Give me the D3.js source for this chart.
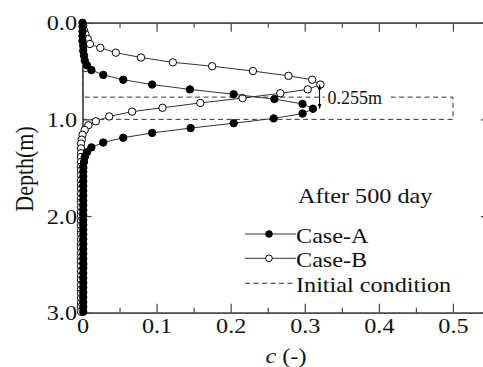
<!DOCTYPE html>
<html>
<head>
<meta charset="utf-8">
<script src="https://cdn.jsdelivr.net/npm/d3@7"></script>
<style>
    body { margin: 0; background: #fff; }
    svg { display: block; }
    .axis path, .axis line { stroke: #444; stroke-width: 1.2; }
    .axis text { font-family: "Liberation Serif", "Times New Roman", Times, serif; font-size: 22px; fill: #111; }
    .label { font-family: "Liberation Serif", "Times New Roman", Times, serif; font-size: 22px; fill: #111; }
</style>
</head>
<body>
<script>
(function(){

    //depths (m) and concentrations
    var depthA = [0.00, 0.04, 0.09, 0.14, 0.19, 0.24, 0.29, 0.34, 0.39, 0.44,
        0.49, 0.54, 0.59, 0.64, 0.69, 0.74, 0.79, 0.84, 0.89, 0.94,
        0.99, 1.04, 1.09, 1.14, 1.19, 1.24, 1.29, 1.34, 1.39, 1.44,
        1.49, 1.54, 1.59, 1.64, 1.69, 1.74, 1.79, 1.84, 1.89, 1.94,
        1.99, 2.04, 2.09, 2.14, 2.19, 2.24, 2.29, 2.34, 2.39, 2.44,
        2.49, 2.54, 2.59, 2.64, 2.69, 2.74, 2.79, 2.84, 2.89, 2.94, 2.99];
    var caseA = [0.000, 0.000, 0.000, 0.000, 0.000, 0.001, 0.001, 0.002, 0.003, 0.006,
        0.012, 0.028, 0.055, 0.094, 0.145, 0.204, 0.259, 0.297, 0.311, 0.297,
        0.258, 0.204, 0.146, 0.094, 0.055, 0.028, 0.012, 0.006, 0.003, 0.002,
        0.001, 0.001, 0.001, 0.001, 0.001, 0.001, 0.001, 0.001, 0.001, 0.001,
        0.001, 0.001, 0.001, 0.001, 0.001, 0.001, 0.001, 0.001, 0.001, 0.001,
        0.001, 0.001, 0.001, 0.001, 0.001, 0.001, 0.001, 0.001, 0.001, 0.001, 0.001];

    var depthB = [0.03, 0.08, 0.12, 0.17, 0.22, 0.26, 0.31, 0.36, 0.41, 0.45,
        0.50, 0.55, 0.59, 0.64, 0.69, 0.73, 0.78, 0.83, 0.88, 0.92,
        0.97, 1.02, 1.06, 1.11, 1.16, 1.21, 1.25, 1.30, 1.35, 1.39,
        1.44, 1.49, 1.53, 1.58, 1.63, 1.68, 1.72, 1.77, 1.82, 1.86,
        1.91, 1.96, 2.00, 2.05, 2.10, 2.15, 2.19, 2.24, 2.29, 2.33,
        2.38, 2.43, 2.47, 2.52, 2.57, 2.62, 2.66, 2.71, 2.76, 2.80,
        2.85, 2.90, 2.94, 2.99];
    var caseB = [0.001, 0.002, 0.004, 0.007, 0.010, 0.024, 0.045, 0.079, 0.122, 0.175,
        0.230, 0.278, 0.310, 0.321, 0.304, 0.267, 0.216, 0.159, 0.108, 0.067,
        0.036, 0.018, 0.008, 0.003, 0.000, -0.001, -0.002, -0.002, -0.002, -0.002,
        -0.002, -0.002, -0.002, -0.002, -0.002, -0.002, -0.002, -0.002, -0.002, -0.002,
        -0.002, -0.002, -0.002, -0.002, -0.002, -0.002, -0.002, -0.002, -0.002, -0.002,
        -0.002, -0.002, -0.002, -0.002, -0.002, -0.002, -0.002, -0.002, -0.002, -0.002,
        -0.002, -0.002, -0.002, -0.002];

    //initial condition (dashed outline)
    var initDepth = [0.00, 0.77, 0.77, 1.00, 1.00, 3.00];
    var initC = [0.0, 0.0, 0.5, 0.5, 0.0, 0.0];

    //axis ticks
    var xMajor = [0, 0.1, 0.2, 0.3, 0.4, 0.5];
    var xMinor = [0.05, 0.15, 0.25, 0.35, 0.45];
    var yMajor = [0, 1, 2, 3];
    var yMinor = [0.5, 1.5, 2.5];

    //legend entries and annotation
    var legendNames = ["Case-A", "Case-B", "Initial condition"];
    var shiftLabel = "0.255m";
    var shiftC = 0.32, shiftTop = 0.64, shiftBottom = 0.89;

    var stretch = 1.1;

    window.onload = setChart();

    function setChart(){
        var width = 483, height = 367;

        var svg = d3.select("body")
            .append("svg")
            .attr("width", width)
            .attr("height", height);

        //scales: c across, depth down
        var x = d3.scaleLinear().domain([0, 0.55]).range([82.5, 490]);
        var y = d3.scaleLinear().domain([0, 3]).range([22.7, 312.7]);

        var line = d3.line()
            .x(function(d){ return x(d[0]); })
            .y(function(d){ return y(d[1]); });

        //initial condition
        var initPts = initC.map(function(c, i){ return [c, initDepth[i]]; });
        svg.append("path")
            .attr("d", line(initPts))
            .attr("fill", "none")
            .attr("stroke", "#333")
            .attr("stroke-width", 1)
            .attr("stroke-dasharray", "5,3.5");

        //axes
        setAxes(svg, x, y);

        //series B then A
        var ptsB = caseB.map(function(c, i){ return [c, depthB[i]]; });
        var ptsA = caseA.map(function(c, i){ return [c, depthA[i]]; });
        drawSeries(svg, ptsB, "#fff", line, x, y);
        drawSeries(svg, ptsA, "#000", line, x, y);

        //shift annotation
        setAnnotation(svg, x, y);

        //legend
        setLegend(svg);

        //axis titles
        svg.append("text")
            .attr("class", "label")
            .attr("text-anchor", "middle")
            .attr("transform", "translate(33,169) scale(" + stretch + ",1) rotate(-90)")
            .text("Depth(m)");

        var xt = svg.append("text")
            .attr("class", "label")
            .attr("text-anchor", "middle")
            .attr("transform", "translate(286,363) scale(" + stretch + ",1)");
        xt.append("tspan").attr("font-style", "italic").text("c");
        xt.append("tspan").text(" (-)");
    };

    function setAxes(svg, x, y){
        var bottom = svg.append("g")
            .attr("class", "axis")
            .attr("transform", "translate(0," + y(3) + ")")
            .call(d3.axisBottom(x).tickValues(xMajor).tickSize(-9).tickSizeOuter(0)
                .tickPadding(5).tickFormat(function(d){ return d === 0 ? "0" : d3.format(".1f")(d); }));
        bottom.selectAll("text").attr("transform", "scale(" + stretch + ",1)");

        svg.append("g")
            .attr("class", "axis")
            .attr("transform", "translate(0," + y(3) + ")")
            .call(d3.axisBottom(x).tickValues(xMinor).tickSize(-5).tickSizeOuter(0).tickFormat(""));

        svg.append("g")
            .attr("class", "axis")
            .attr("transform", "translate(0," + y(0) + ")")
            .call(d3.axisTop(x).tickValues(xMajor).tickSize(-9).tickSizeOuter(0).tickFormat(""));

        svg.append("g")
            .attr("class", "axis")
            .attr("transform", "translate(0," + y(0) + ")")
            .call(d3.axisTop(x).tickValues(xMinor).tickSize(-5).tickSizeOuter(0).tickFormat(""));

        var left = svg.append("g")
            .attr("class", "axis")
            .attr("transform", "translate(" + x(0) + ",0)")
            .call(d3.axisLeft(y).tickValues(yMajor).tickSize(-9).tickSizeOuter(0)
                .tickPadding(5).tickFormat(d3.format(".1f")));
        left.selectAll("text").attr("transform", "scale(" + stretch + ",1)");

        svg.append("g")
            .attr("class", "axis")
            .attr("transform", "translate(" + x(0) + ",0)")
            .call(d3.axisLeft(y).tickValues(yMinor).tickSize(-5).tickSizeOuter(0).tickFormat(""));

        svg.append("g")
            .attr("class", "axis")
            .attr("transform", "translate(" + x(0.55) + ",0)")
            .call(d3.axisRight(y).tickValues(yMajor).tickSize(-9).tickSizeOuter(0).tickFormat(""));
    };

    function drawSeries(svg, pts, fill, line, x, y){
        svg.append("path")
            .attr("d", line(pts))
            .attr("fill", "none")
            .attr("stroke", "#333")
            .attr("stroke-width", 1);

        svg.append("g")
            .selectAll("circle")
            .data(pts)
            .enter()
            .append("circle")
            .attr("cx", function(d){ return x(d[0]); })
            .attr("cy", function(d){ return y(d[1]); })
            .attr("r", 3.7)
            .attr("fill", fill)
            .attr("stroke", "#000")
            .attr("stroke-width", 1);
    };

    function setAnnotation(svg, x, y){
        var ax = x(shiftC);

        //white box behind the label cuts the dashed line
        svg.append("rect")
            .attr("x", ax + 5)
            .attr("y", 89)
            .attr("width", 64)
            .attr("height", 18)
            .attr("fill", "#fff");

        svg.append("defs").append("marker")
            .attr("id", "head")
            .attr("viewBox", "0 0 10 10")
            .attr("refX", 10)
            .attr("refY", 5)
            .attr("markerWidth", 5)
            .attr("markerHeight", 5)
            .attr("orient", "auto-start-reverse")
            .append("path")
            .attr("d", "M0,1 L10,5 L0,9 Z")
            .attr("fill", "#000");

        svg.append("line")
            .attr("x1", ax).attr("x2", ax)
            .attr("y1", y(shiftTop)).attr("y2", y(shiftBottom))
            .attr("stroke", "#000")
            .attr("stroke-width", 1)
            .attr("marker-start", "url(#head)")
            .attr("marker-end", "url(#head)");

        svg.append("text")
            .attr("class", "label")
            .style("font-size", "18px")
            .attr("transform", "translate(" + (ax + 8) + ",104)")
            .text(shiftLabel);
    };

    function setLegend(svg){
        svg.append("text")
            .attr("class", "label")
            .attr("transform", "translate(298,203) scale(" + stretch + ",1)")
            .text("After 500 day");

        var rows = [234, 258.3, 283.3];
        legendNames.forEach(function(name, i){
            var g = svg.append("g");
            g.append("line")
                .attr("x1", 245).attr("x2", 296)
                .attr("y1", rows[i]).attr("y2", rows[i])
                .attr("stroke", "#333")
                .attr("stroke-width", 1)
                .attr("stroke-dasharray", i == 2 ? "5,3.5" : null);
            if (i < 2){
                g.append("circle")
                    .attr("cx", 269).attr("cy", rows[i])
                    .attr("r", 3.3)
                    .attr("fill", i == 0 ? "#000" : "#fff")
                    .attr("stroke", "#000");
            }
            g.append("text")
                .attr("class", "label")
                .attr("transform", "translate(296," + (rows[i] + 8.5) + ") scale(" + stretch + ",1)")
                .text(name);
        });
    };

})();
</script>
</body>
</html>
